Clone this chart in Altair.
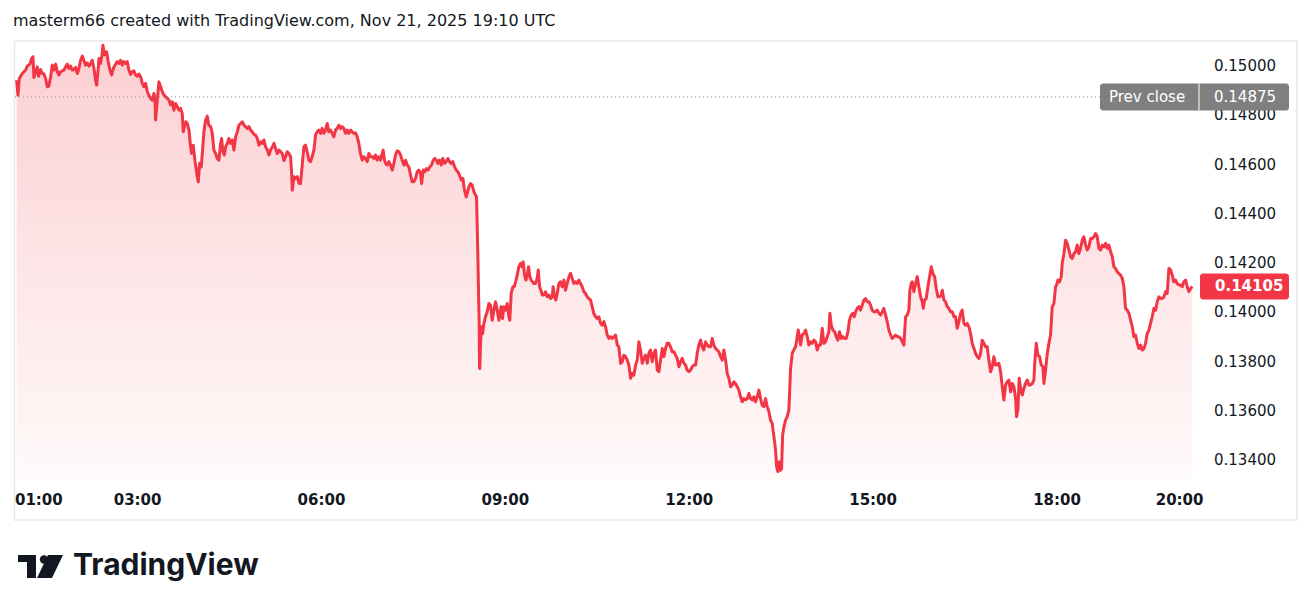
import altair as alt
import pandas as pd

TITLE = "masterm66 created with TradingView.com, Nov 21, 2025 19:10 UTC"

# minutes after 01:00 (chart time axis)
minutes = [
    1.6, 2.9, 4.2, 7.1, 10.4, 12.0, 14.6, 16.3, 17.6, 18.5, 20.2, 21.8, 23.1, 25.1, 26.7, 28.3, 30.0, 31.6, 33.2, 34.9,
    36.5, 38.1, 39.8, 41.4, 43.0, 44.6, 47.9, 49.5, 51.2, 52.8, 54.4, 56.1, 57.7, 59.3, 61.0, 62.6, 64.2, 65.9, 67.5, 69.1,
    70.7, 72.4, 74.0, 75.6, 77.3, 78.9, 79.9, 81.2, 82.2, 83.8, 85.4, 86.1, 87.7, 89.7, 91.0, 92.9, 94.6, 96.2, 98.5, 100.1,
    101.7, 103.4, 105.0, 106.6, 108.3, 109.9, 111.5, 113.2, 114.8, 116.4, 118.1, 119.7, 121.3, 123.0, 124.6, 126.2, 127.9, 129.5, 131.1, 132.7,
    134.4, 136.0, 137.0, 137.6, 139.3, 140.9, 142.5, 144.2, 145.8, 147.4, 149.1, 150.7, 152.3, 154.0, 155.6, 157.2, 158.9, 160.5, 162.1, 163.7,
    164.7, 166.0, 167.3, 168.6, 170.3, 171.9, 172.9, 174.5, 176.1, 178.4, 179.4, 180.7, 182.3, 183.6, 184.9, 186.6, 188.2, 189.8, 191.5, 193.1,
    194.7, 196.4, 198.0, 199.6, 201.3, 202.2, 203.6, 204.9, 206.2, 207.8, 209.4, 211.1, 212.7, 214.3, 216.0, 217.6, 219.2, 220.8, 222.5, 224.1,
    225.7, 227.4, 229.0, 230.6, 232.3, 233.9, 235.5, 237.2, 238.8, 240.4, 242.1, 243.7, 245.3, 247.0, 248.6, 250.2, 251.9, 253.5, 255.1, 256.7,
    258.4, 260.0, 261.6, 263.3, 264.9, 266.5, 268.2, 269.8, 270.8, 271.4, 273.1, 274.7, 276.3, 278.0,
    279.5, 282.8, 284.4, 286.0, 287.7, 289.3, 290.9, 292.6, 294.2, 295.8, 297.4, 299.1, 300.7, 302.3, 304.0, 305.6, 307.2, 308.9, 310.5, 312.1,
    313.8, 315.4, 317.0, 318.7, 320.3, 321.9, 323.6, 325.2, 326.8, 328.5, 330.1, 331.7, 333.3, 335.0, 336.6, 338.2, 339.9, 341.5, 343.1, 344.8,
    346.4, 348.0, 349.7, 351.3, 352.9, 354.5, 356.2, 357.8, 359.4, 360.4, 361.7, 362.7, 364.3, 366.0, 367.6, 369.2, 370.9, 372.5, 374.1, 375.8,
    377.4, 379.0, 380.7, 382.3, 383.9, 385.5, 387.2, 388.8, 390.4, 392.1, 393.7, 395.3, 397.0, 398.0, 399.6, 401.2, 402.8, 404.5, 406.1, 407.7,
    409.4, 411.0, 412.6, 413.9, 415.6, 417.2, 418.8, 420.5, 422.1, 423.7, 425.4, 427.0, 428.6, 430.3, 431.9, 433.5, 435.1, 436.8, 438.4, 440.0,
    441.7, 442.7, 444.3, 445.9, 447.5, 449.2, 450.8, 451.8, 452.4, 453.1, 453.7, 454.4, 454.7, 455.0, 455.7, 456.7, 457.7, 459.0, 460.6, 462.2,
    463.9, 465.5, 467.1, 468.8, 470.4, 472.0, 473.7, 474.6, 475.9, 477.2, 478.5, 480.2, 481.8, 483.4, 484.4, 485.7, 487.4, 488.7, 490.0, 491.6,
    493.2, 494.9, 496.5, 497.5, 498.8, 500.1, 501.4, 502.7, 504.0, 505.3, 506.6, 507.9, 509.5, 511.2, 512.2, 513.5, 514.8, 516.1, 517.7, 519.3,
    521.0, 522.6, 524.2, 525.9, 526.8, 528.1, 529.4, 530.8, 532.4, 534.0, 535.6, 537.3, 538.9, 540.5, 542.2, 543.8, 545.4, 547.1, 548.7, 550.3,
    552.0, 553.6, 555.2, 556.9, 558.5, 560.1, 561.7, 563.4, 565.0, 566.6, 568.3, 569.9, 571.5, 573.2,
    574.8, 576.5, 578.1, 579.7, 581.3, 583.0, 584.6, 586.2, 587.9, 589.5, 591.1, 592.8, 594.4, 596.0, 597.7, 599.3, 600.9, 602.6, 604.2, 605.8,
    607.5, 609.1, 610.7, 612.3, 614.0, 615.6, 617.2, 618.9, 620.5, 622.1, 623.8, 625.4, 627.0, 628.7, 630.3, 631.9, 633.6, 635.2, 636.8, 638.4,
    640.1, 641.7, 643.3, 645.0, 646.6, 648.2, 649.9, 651.5, 653.1, 654.8, 656.4, 658.0, 659.7, 661.3, 662.9, 664.6, 666.2, 667.8, 669.4, 671.1,
    672.7, 674.3, 676.0, 677.6, 679.2, 680.9, 682.5, 684.1, 685.8, 687.4, 689.0, 690.7, 692.3, 693.9, 695.6, 697.2, 698.8, 700.5, 702.1, 703.7,
    705.3, 707.0, 708.6, 710.2, 711.9, 713.5, 715.1, 716.8, 718.4, 720.0, 721.7, 723.3, 724.9, 726.6, 728.2, 729.8, 731.4, 733.1, 734.7, 736.3,
    738.0, 739.6, 741.2, 742.9, 744.5, 745.5, 746.8, 748.1, 749.4, 750.4, 751.4, 752.7, 754.3, 755.9, 757.5, 758.5, 759.2, 760.8, 762.4, 764.1,
    765.7, 766.7, 767.7, 769.0, 770.6, 772.2, 773.9, 775.5, 777.1, 778.8, 780.4, 782.0, 783.7, 785.3, 786.9, 788.5, 790.2, 791.8, 793.4, 795.1,
    796.7, 797.7, 799.0, 800.6, 802.3, 803.9, 805.5, 807.1, 808.8, 810.4, 812.0, 813.7, 815.3, 816.9, 818.6, 820.2, 821.5, 822.8, 824.4, 826.1,
    827.7, 829.3, 831.0, 832.6, 834.2, 835.9, 837.5, 839.1, 840.8, 842.4, 844.0, 845.7, 847.3, 848.9, 850.5, 852.2, 853.8, 855.4, 857.1,
    858.7, 860.4, 862.0, 863.6, 865.2, 866.9, 868.5, 870.1, 871.8, 873.4, 875.0, 876.0, 877.3, 878.3, 879.9, 881.6, 883.2, 884.8, 886.5, 888.1,
    889.1, 890.4, 892.0, 893.6, 895.3, 896.9, 898.5, 900.2, 901.8, 903.4, 905.1, 906.7, 907.7, 909.3, 910.9, 912.6, 914.2, 915.8, 917.5, 919.1,
    920.7, 922.3, 924.0, 925.6, 927.2, 928.9, 930.5, 932.1, 933.8, 935.4, 937.0, 938.7, 940.3, 941.9, 943.6, 945.2, 946.8, 948.5, 950.1, 951.7,
    953.3, 955.0, 956.6, 958.2, 959.9, 961.5, 963.1, 964.8, 966.4, 968.0, 969.7, 971.3, 972.9, 974.6, 976.2, 977.8, 979.5, 980.4, 981.7, 983.0,
    984.3, 986.0, 987.6, 989.2, 990.9, 992.5, 994.1, 995.8, 997.4, 998.4, 999.7, 1001.3, 1002.9, 1004.6, 1006.2, 1007.2, 1008.8, 1010.5, 1012.1, 1013.7,
    1015.3, 1017.0, 1018.6, 1019.6, 1020.9, 1022.5, 1024.2, 1025.1, 1026.8, 1028.4, 1030.0, 1031.7, 1033.3, 1034.9, 1036.6, 1038.2, 1039.8, 1041.4, 1043.1, 1044.7,
    1046.3, 1048.0, 1049.6, 1051.2, 1052.9, 1054.5, 1056.1, 1057.8, 1059.4, 1061.0, 1062.7, 1064.3, 1065.9, 1067.6, 1069.2, 1070.8, 1072.5, 1074.1, 1075.7, 1077.3,
    1079.0, 1080.6, 1082.2, 1083.9, 1085.5, 1087.1, 1088.8, 1090.4, 1092.0, 1093.7, 1095.3, 1096.9, 1098.6, 1100.2, 1101.8, 1103.4, 1105.1, 1106.7, 1108.3, 1110.0,
    1111.6, 1113.2, 1114.9, 1116.5, 1118.1, 1119.8, 1121.4, 1123.0, 1124.7, 1126.3, 1127.9, 1129.5, 1131.2, 1132.8, 1134.4, 1136.1, 1137.7, 1139.3, 1141.0, 1142.6,
    1144.2, 1145.9, 1147.5, 1149.1, 1150.8, 1152.4,
]

# price in units of 0.00001
price_e5 = [
    14943, 14882, 14950, 14970, 14984, 15000, 15008, 15031, 15038, 14954, 14977, 14997, 14959, 14986, 14970, 14968, 14950, 14916, 14919, 14957,
    15004, 14984, 15008, 14977, 14964, 14977, 14984, 14997, 15008, 14990, 15000, 14984, 14986, 14995, 14970, 14990, 15024, 15041, 15022, 15004,
    15013, 15000, 15011, 15024, 14990, 14943, 14923, 14977, 15031, 15011, 15051, 15085, 15045, 15058, 15024, 14984, 14964, 14990, 15008, 15018,
    15011, 15024, 15004, 15018, 15011, 15018, 14984, 14966, 14977, 14981, 14964, 14959, 14968, 14957, 14930, 14916, 14930, 14896, 14882, 14869,
    14862, 14889, 14869, 14781, 14862, 14936, 14916, 14896, 14882, 14876, 14869, 14862, 14842, 14855, 14821, 14848, 14835, 14821, 14828, 14808,
    14733, 14760, 14774, 14767, 14740, 14672, 14645, 14679, 14618, 14551, 14530, 14605, 14591, 14659, 14733, 14781, 14797, 14760, 14754, 14727,
    14659, 14645, 14625, 14618, 14686, 14706, 14652, 14639, 14672, 14686, 14706, 14686, 14700, 14659, 14713, 14733, 14760, 14767, 14774, 14760,
    14754, 14747, 14754, 14740, 14733, 14723, 14720, 14706, 14679, 14693, 14686, 14700, 14672, 14659, 14639, 14659, 14672, 14686, 14665, 14645,
    14659, 14652, 14645, 14616, 14632, 14652, 14645, 14632, 14564, 14496, 14551, 14544, 14551, 14524,
    14523, 14672, 14679, 14652, 14618, 14612, 14632, 14659, 14720, 14733, 14740, 14727, 14747, 14727, 14740, 14767, 14733, 14740, 14727, 14713,
    14740, 14747, 14760, 14747, 14754, 14747, 14727, 14740, 14727, 14740, 14733, 14727, 14729, 14713, 14686, 14645, 14618, 14632, 14625, 14612,
    14645, 14632, 14632, 14625, 14639, 14618, 14632, 14618, 14645, 14659, 14618, 14605, 14598, 14612, 14598, 14578, 14605, 14639, 14656, 14652,
    14639, 14618, 14598, 14618, 14598, 14591, 14557, 14530, 14530, 14544, 14571, 14578, 14564, 14523, 14578, 14571, 14584, 14578, 14591, 14598,
    14618, 14625, 14618, 14605, 14618, 14598, 14625, 14605, 14612, 14625, 14612, 14605, 14612, 14591, 14578, 14571, 14557, 14537, 14544, 14496,
    14469, 14483, 14510, 14523, 14517, 14490, 14476, 14469, 14361, 14226, 14090, 13955, 13779, 13772, 13874, 13941, 13914, 13955, 13982, 14002,
    14036, 14029, 13968, 14009, 14043, 14009, 13968, 13995, 14023, 13975, 14023, 14009, 14036, 13982, 13968, 14077, 14104, 14104, 14124, 14151,
    14185, 14199, 14185, 14205, 14151, 14131, 14151, 14185, 14144, 14131, 14124, 14117, 14117, 14138, 14172, 14104, 14090, 14070, 14070, 14083,
    14063, 14070, 14056, 14063, 14104, 14063, 14050, 14077, 14117, 14124, 14104, 14131, 14090, 14117, 14144, 14158, 14138, 14117, 14124, 14117,
    14131, 14117, 14104, 14083, 14077, 14063, 14056, 14050, 14023, 13995, 13982, 13975, 13982, 13955,
    13948, 13962, 13941, 13908, 13894, 13901, 13894, 13901, 13908, 13867, 13860, 13793, 13799, 13826, 13820, 13806, 13786, 13732, 13752, 13745,
    13786, 13806, 13880, 13847, 13793, 13813, 13826, 13793, 13833, 13847, 13799, 13833, 13847, 13765, 13759, 13806, 13853, 13820, 13853, 13874,
    13874, 13860, 13840, 13840, 13826, 13813, 13779, 13799, 13813, 13793, 13786, 13765, 13759, 13765, 13779, 13786, 13786, 13833, 13867, 13887,
    13860, 13847, 13880, 13867, 13860, 13860, 13894, 13867, 13853, 13847, 13840, 13820, 13806, 13847, 13806, 13752, 13732, 13698, 13705, 13718,
    13711, 13698, 13684, 13657, 13637, 13650, 13644, 13650, 13671, 13650, 13644, 13657, 13637, 13657, 13684, 13650, 13623, 13617, 13650, 13617,
    13596, 13562, 13549, 13495, 13441, 13373, 13353, 13393, 13359, 13366, 13501, 13535, 13562, 13576, 13603, 13698, 13772, 13833, 13847, 13860,
    13901, 13928, 13901, 13867, 13908, 13914, 13928, 13901, 13867, 13880, 13874, 13887, 13880, 13847, 13867, 13867, 13935, 13874, 13880, 13901,
    13921, 13996, 13948, 13928, 13921, 13901, 13887, 13921, 13894, 13901, 13894, 13894, 13921, 13969, 13989, 13996, 13982, 14002, 14016, 14023,
    14009, 14029, 14050, 14056, 14043, 14043, 14029, 14009, 14002, 14002, 14009, 13996, 13989, 14002, 14016, 13989, 13962, 13928, 13908,
    13894, 13901, 13908, 13901, 13901, 13894, 13881, 13867, 13982, 13989, 14009, 14090, 14117, 14124, 14084, 14117, 14145, 14104, 14063, 14043,
    14016, 14050, 14056, 14104, 14145, 14185, 14158, 14145, 14097, 14063, 14063, 14070, 14090, 14050, 14043, 14023, 14016, 14002, 14002, 13982,
    13982, 13935, 13962, 13996, 14009, 13955, 13948, 13955, 13941, 13914, 13874, 13853, 13833, 13820, 13813, 13833, 13887, 13874, 13860, 13860,
    13806, 13759, 13779, 13820, 13786, 13786, 13793, 13759, 13698, 13644, 13705, 13718, 13725, 13677, 13711, 13698, 13650, 13576, 13603, 13732,
    13691, 13664, 13691, 13711, 13725, 13705, 13705, 13711, 13725, 13806, 13874, 13826, 13820, 13786, 13779, 13711, 13765, 13833, 13874, 13908,
    14023, 14036, 14104, 14111, 14131, 14124, 14145, 14199, 14239, 14293, 14280, 14253, 14226, 14219, 14239, 14246, 14273, 14239, 14260, 14293,
    14307, 14273, 14253, 14266, 14300, 14300, 14307, 14320, 14307, 14260, 14253, 14273, 14266, 14280, 14260, 14273, 14246, 14226, 14185, 14178,
    14165, 14158, 14151, 14138, 14104, 14016, 14009, 13996, 13969, 13941, 13901, 13908, 13874, 13853, 13867, 13847, 13853, 13874, 13914, 13928,
    13955, 13982, 14016, 14009, 14043, 14063, 14056, 14056, 14063, 14084, 14077, 14178, 14172, 14151, 14124, 14131, 14117, 14111, 14111, 14104,
    14124, 14131, 14104, 14084, 14097, 14105,
]

PREV_CLOSE = 0.14875
LAST_PRICE = 0.14105
price_ticks = [0.134, 0.136, 0.138, 0.140, 0.142, 0.144, 0.146, 0.148, 0.150]
time_ticks = [0, 120, 300, 480, 660, 840, 1020, 1140]
time_labels = ["01:00", "03:00", "06:00", "09:00", "12:00", "15:00", "18:00", "20:00"]
x_domain = [0, 1159]
y_domain = [0.13319, 0.15102]

W, H = 1184, 439
RED = "#F23645"
INK = "#131722"
GRAY = "#7f7f7f"
FONT = "DejaVu Sans"

df = pd.DataFrame({"m": minutes, "price": [p / 1e5 for p in price_e5]})
yt_df = pd.DataFrame({"price": price_ticks, "lab": [f"{v:.5f}" for v in price_ticks]})
xt_df = pd.DataFrame({"m": time_ticks, "lab": time_labels})

xs = alt.Scale(domain=x_domain, nice=False, zero=False)
ys = alt.Scale(domain=y_domain, nice=False, zero=False)
X = alt.X("m:Q", scale=xs, axis=None)
Y = alt.Y("price:Q", scale=ys, axis=None)

gradient = alt.Gradient(
    gradient="linear",
    stops=[alt.GradientStop(color="#fccfd2", offset=0),
           alt.GradientStop(color="#fffafa", offset=1)],
    x1=0, x2=0, y1=0, y2=1,
)

one = pd.DataFrame({"k": [0]})

frame = alt.Chart(one).mark_rect(fill="white", fillOpacity=0, stroke="#e8e8e8", strokeWidth=1.5).encode(
    x=alt.value(-0.5), x2=alt.value(1282), y=alt.value(0), y2=alt.value(479)
)

area = alt.Chart(df).mark_area(color=gradient).encode(x=X, y=Y, y2=alt.datum(y_domain[0]))
line = alt.Chart(df).mark_line(color=RED, strokeWidth=3, strokeJoin="round").encode(x=X, y=Y)

# axis labels
y_labels = alt.Chart(yt_df).mark_text(
    color=INK, font=FONT, fontSize=15, align="left", baseline="middle"
).encode(y=Y, x=alt.value(1199), text="lab:N")
x_first = alt.Chart(xt_df.iloc[:1]).mark_text(
    color=INK, font=FONT, fontSize=15, fontWeight="bold", align="left", baseline="middle"
).encode(x=X, y=alt.value(459), text="lab:N")
x_rest = alt.Chart(xt_df.iloc[1:]).mark_text(
    color=INK, font=FONT, fontSize=15, fontWeight="bold", align="center", baseline="middle"
).encode(x=X, y=alt.value(459), text="lab:N")

prev_df = pd.DataFrame({"price": [PREV_CLOSE], "label": ["Prev close"], "val": [f"{PREV_CLOSE:.5f}"]})
last_df = pd.DataFrame({"price": [LAST_PRICE], "val": [f"{LAST_PRICE:.5f}"]})

prev_rule = alt.Chart(prev_df).mark_rule(color="#8a8d96", strokeDash=[1, 3], strokeWidth=1).encode(
    y=Y, x=alt.value(0), x2=alt.value(1085)
)
prev_box = alt.Chart(prev_df).mark_rect(color=GRAY, cornerRadius=3, yOffset=-13.5, y2Offset=13.5).encode(
    y=Y, y2="price:Q", x=alt.value(1085), x2=alt.value(1274)
)
prev_div = alt.Chart(prev_df).mark_rule(color="white", strokeWidth=1, yOffset=-13.5, y2Offset=13.5).encode(
    y=Y, y2="price:Q", x=alt.value(1184)
)
prev_lbl = alt.Chart(prev_df).mark_text(color="white", font=FONT, fontSize=15, align="left", baseline="middle").encode(
    y=Y, x=alt.value(1094), text="label:N"
)
prev_val = alt.Chart(prev_df).mark_text(color="white", font=FONT, fontSize=15, align="left", baseline="middle").encode(
    y=Y, x=alt.value(1199), text="val:N"
)
last_box = alt.Chart(last_df).mark_rect(color=RED, cornerRadius=3, yOffset=-13, y2Offset=13).encode(
    y=Y, y2="price:Q", x=alt.value(1185), x2=alt.value(1274)
)
last_val = alt.Chart(last_df).mark_text(color="white", font=FONT, fontSize=15, fontWeight="bold",
                                        align="left", baseline="middle").encode(
    y=Y, x=alt.value(1200), text="val:N"
)

title = alt.Chart(pd.DataFrame({"t": [TITLE]})).mark_text(
    color=INK, font=FONT, fontSize=16, align="left", baseline="middle"
).encode(x=alt.value(-2), y=alt.value(-20), text="t:N")

logo_text = alt.Chart(pd.DataFrame({"t": ["TradingView"]})).mark_text(
    color=INK, font="Inter", fontSize=30, fontWeight="bold", align="left", baseline="middle"
).encode(x=alt.value(58), y=alt.value(525), text="t:N")

logo_bar = alt.Chart(one).mark_rect(color=INK).encode(
    x=alt.value(3), x2=alt.value(21), y=alt.value(514), y2=alt.value(521))
logo_stem = alt.Chart(one).mark_rect(color=INK).encode(
    x=alt.value(12), x2=alt.value(21), y=alt.value(514), y2=alt.value(537))
logo_dot = alt.Chart(one).mark_point(color=INK, filled=True, opacity=1, size=70, shape="circle").encode(
    x=alt.value(29), y=alt.value(518.5))
logo_slash = alt.Chart(one).mark_point(
    color=INK, filled=True, opacity=1, size=676,
    shape="M -0.154 -0.885 L 1 -0.885 L 0.154 0.885 L -1 0.885 Z",
).encode(x=alt.value(35), y=alt.value(525.5))

chart = alt.layer(
    frame, area, line, y_labels, x_first, x_rest,
    prev_rule, prev_box, prev_div, prev_lbl, prev_val, last_box, last_val,
    title, logo_text, logo_bar, logo_stem, logo_dot, logo_slash,
).properties(
    width=W, height=H,
    padding={"left": 7, "top": 33, "right": 100, "bottom": 110},
    autosize=alt.AutoSizeParams(type="none"),
    background="white",
).configure_view(strokeWidth=0)

chart.save("out.html", embed_options={"renderer": "svg", "actions": False})
